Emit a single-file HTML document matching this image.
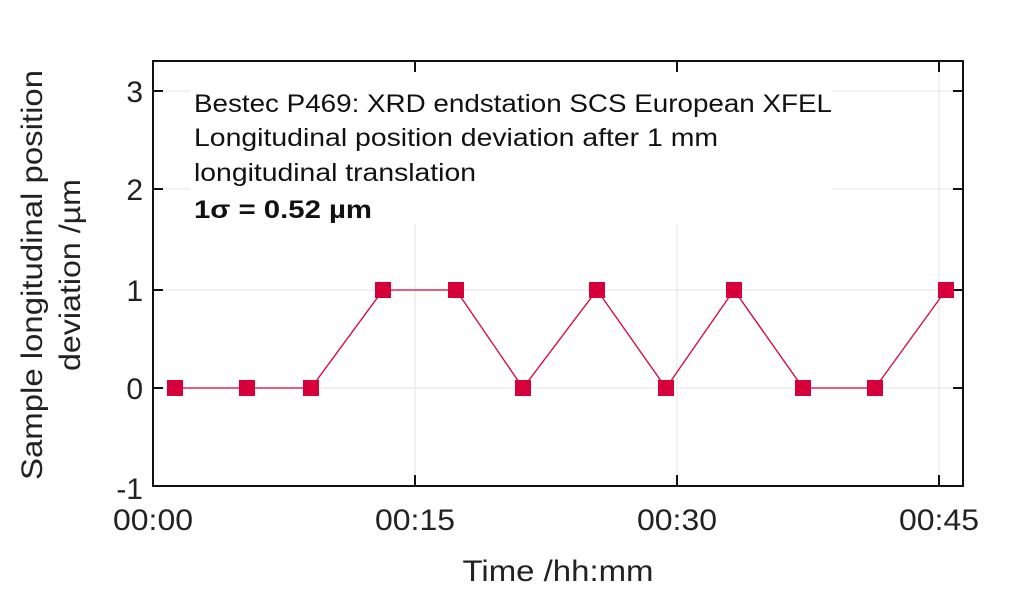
<!DOCTYPE html>
<html><head><meta charset="utf-8"><style>html,body{margin:0;padding:0;background:#fff}svg{display:block}</style></head>
<body>
<svg width="1024" height="589" viewBox="0 0 1024 589" xmlns="http://www.w3.org/2000/svg" font-family="'Liberation Sans', sans-serif">
<rect width="1024" height="589" fill="#fff"/>
<g stroke="#e3e3e3" stroke-width="1">
<line x1="153" y1="91" x2="963" y2="91"/>
<line x1="153" y1="189" x2="963" y2="189"/>
<line x1="153" y1="290" x2="963" y2="290"/>
<line x1="153" y1="388" x2="963" y2="388"/>
<line x1="415" y1="61" x2="415" y2="486"/>
<line x1="677" y1="61" x2="677" y2="486"/>
<line x1="939" y1="61" x2="939" y2="486"/>
</g>
<rect x="190" y="63" width="642" height="161" fill="#fff"/>
<rect x="153" y="61" width="810" height="425" fill="none" stroke="#111" stroke-width="2"/>
<g stroke="#111" stroke-width="2">
<line x1="153" y1="91" x2="163" y2="91"/><line x1="953" y1="91" x2="963" y2="91"/>
<line x1="153" y1="189" x2="163" y2="189"/><line x1="953" y1="189" x2="963" y2="189"/>
<line x1="153" y1="290" x2="163" y2="290"/><line x1="953" y1="290" x2="963" y2="290"/>
<line x1="153" y1="388" x2="163" y2="388"/><line x1="953" y1="388" x2="963" y2="388"/>
<line x1="415" y1="486" x2="415" y2="475"/><line x1="415" y1="61" x2="415" y2="72"/>
<line x1="677" y1="486" x2="677" y2="475"/><line x1="677" y1="61" x2="677" y2="72"/>
<line x1="939" y1="486" x2="939" y2="475"/><line x1="939" y1="61" x2="939" y2="72"/>
</g>
<g font-size="30" fill="#222" text-anchor="end">
<text x="143" y="102">3</text>
<text x="143" y="200">2</text>
<text x="143" y="301">1</text>
<text x="143" y="399">0</text>
<text x="143" y="499">-1</text>
</g>
<g font-size="30" fill="#222" text-anchor="middle">
<text x="153" y="530" textLength="80" lengthAdjust="spacingAndGlyphs">00:00</text>
<text x="415" y="530" textLength="80" lengthAdjust="spacingAndGlyphs">00:15</text>
<text x="677" y="530" textLength="80" lengthAdjust="spacingAndGlyphs">00:30</text>
<text x="939" y="530" textLength="80" lengthAdjust="spacingAndGlyphs">00:45</text>
<text x="558" y="581" textLength="191" lengthAdjust="spacingAndGlyphs">Time /hh:mm</text>
</g>
<g font-size="30" fill="#222" text-anchor="middle">
<text transform="translate(42,275) rotate(-90)" textLength="410" lengthAdjust="spacingAndGlyphs">Sample longitudinal position</text>
<text transform="translate(80,275) rotate(-90)" textLength="192" lengthAdjust="spacingAndGlyphs">deviation /µm</text>
</g>
<g font-size="25" fill="#111">
<text x="194" y="112" textLength="638" lengthAdjust="spacingAndGlyphs">Bestec P469: XRD endstation SCS European XFEL</text>
<text x="194" y="146" textLength="524" lengthAdjust="spacingAndGlyphs">Longitudinal position deviation after 1 mm</text>
<text x="194" y="181" textLength="282" lengthAdjust="spacingAndGlyphs">longitudinal translation</text>
<text x="194" y="218" font-weight="bold" textLength="178" lengthAdjust="spacingAndGlyphs">1σ = 0.52 µm</text>
</g>
<polyline fill="none" stroke="#d6003a" stroke-width="1.3" points="175,388 247,388 311,388 383,290 456,290 523,388 597,290 666,388 734,290 803,388 875,388 946,290"/>
<g fill="#d6003a">
<rect x="167" y="380" width="16" height="16"/>
<rect x="239" y="380" width="16" height="16"/>
<rect x="303" y="380" width="16" height="16"/>
<rect x="375" y="282" width="16" height="16"/>
<rect x="448" y="282" width="16" height="16"/>
<rect x="515" y="380" width="16" height="16"/>
<rect x="589" y="282" width="16" height="16"/>
<rect x="658" y="380" width="16" height="16"/>
<rect x="726" y="282" width="16" height="16"/>
<rect x="795" y="380" width="16" height="16"/>
<rect x="867" y="380" width="16" height="16"/>
<rect x="938" y="282" width="16" height="16"/>
</g>
</svg>
</body></html>
